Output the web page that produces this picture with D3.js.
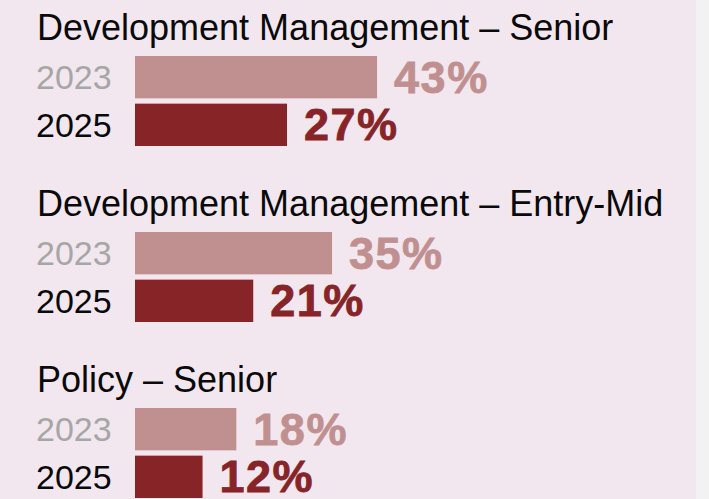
<!DOCTYPE html>
<html><head><meta charset="utf-8">
<script src="https://cdn.jsdelivr.net/npm/d3@7"></script>
<style>
html,body{margin:0;padding:0;background:#f2f2f2;}
svg{display:block;}
text{font-family:"Liberation Sans",Arial,Helvetica,sans-serif;}
</style></head>
<body><svg id="c" width="709" height="499"></svg>
<script>
const categories = ["Development Management – Senior","Development Management – Entry-Mid","Policy – Senior"];
const years = ["2023","2025"];
const values2023 = [43,35,18];
const values2025 = [27,21,12];

const W=709,H=499;
const svg=d3.select("#c");
svg.append("rect").attr("x",0).attr("y",0).attr("width",696).attr("height",H).attr("fill","#f3e7ef");

const x=d3.scaleLinear().domain([0,100]).range([135,135+563]);
const gy=d3.scaleBand().domain(categories).range([0,528]).padding(0);
const yy=d3.scaleBand().domain(years).range([56,146]).paddingInner(0.1111).paddingOuter(0);
const barCol={"2023":"#c09090","2025":"#862428"};
const labCol={"2023":"#a6a6a6","2025":"#0a0a0a"};

const data=categories.map((c,i)=>({cat:c,vals:[{year:"2023",v:values2023[i]},{year:"2025",v:values2025[i]}]}));

const g=svg.selectAll("g.grp").data(data).join("g").attr("class","grp")
  .attr("transform",d=>`translate(0,${gy(d.cat)})`);

g.append("text").attr("x",37).attr("y",40).attr("font-size",36).attr("fill","#0a0a0a")
  .text(d=>d.cat);

const r=g.selectAll("g.row").data(d=>d.vals).join("g").attr("class","row");
r.append("rect").attr("x",x(0)).attr("y",d=>yy(d.year)).attr("height",yy.bandwidth())
  .attr("width",d=>x(d.v)-x(0)).attr("fill",d=>barCol[d.year]);
r.append("text").attr("x",36).attr("y",d=>yy(d.year)+yy.bandwidth()/2+12)
  .attr("font-size",34).attr("fill",d=>labCol[d.year]).text(d=>d.year);
r.append("text").attr("x",d=>x(d.v)+17).attr("y",d=>yy(d.year)+yy.bandwidth()/2+15.5)
  .attr("font-size",45).attr("font-weight","bold").attr("fill",d=>barCol[d.year])
  .attr("stroke",d=>barCol[d.year]).attr("stroke-width",0.8)
  .attr("letter-spacing",1.5).text(d=>d.v+"%");
</script></body></html>
